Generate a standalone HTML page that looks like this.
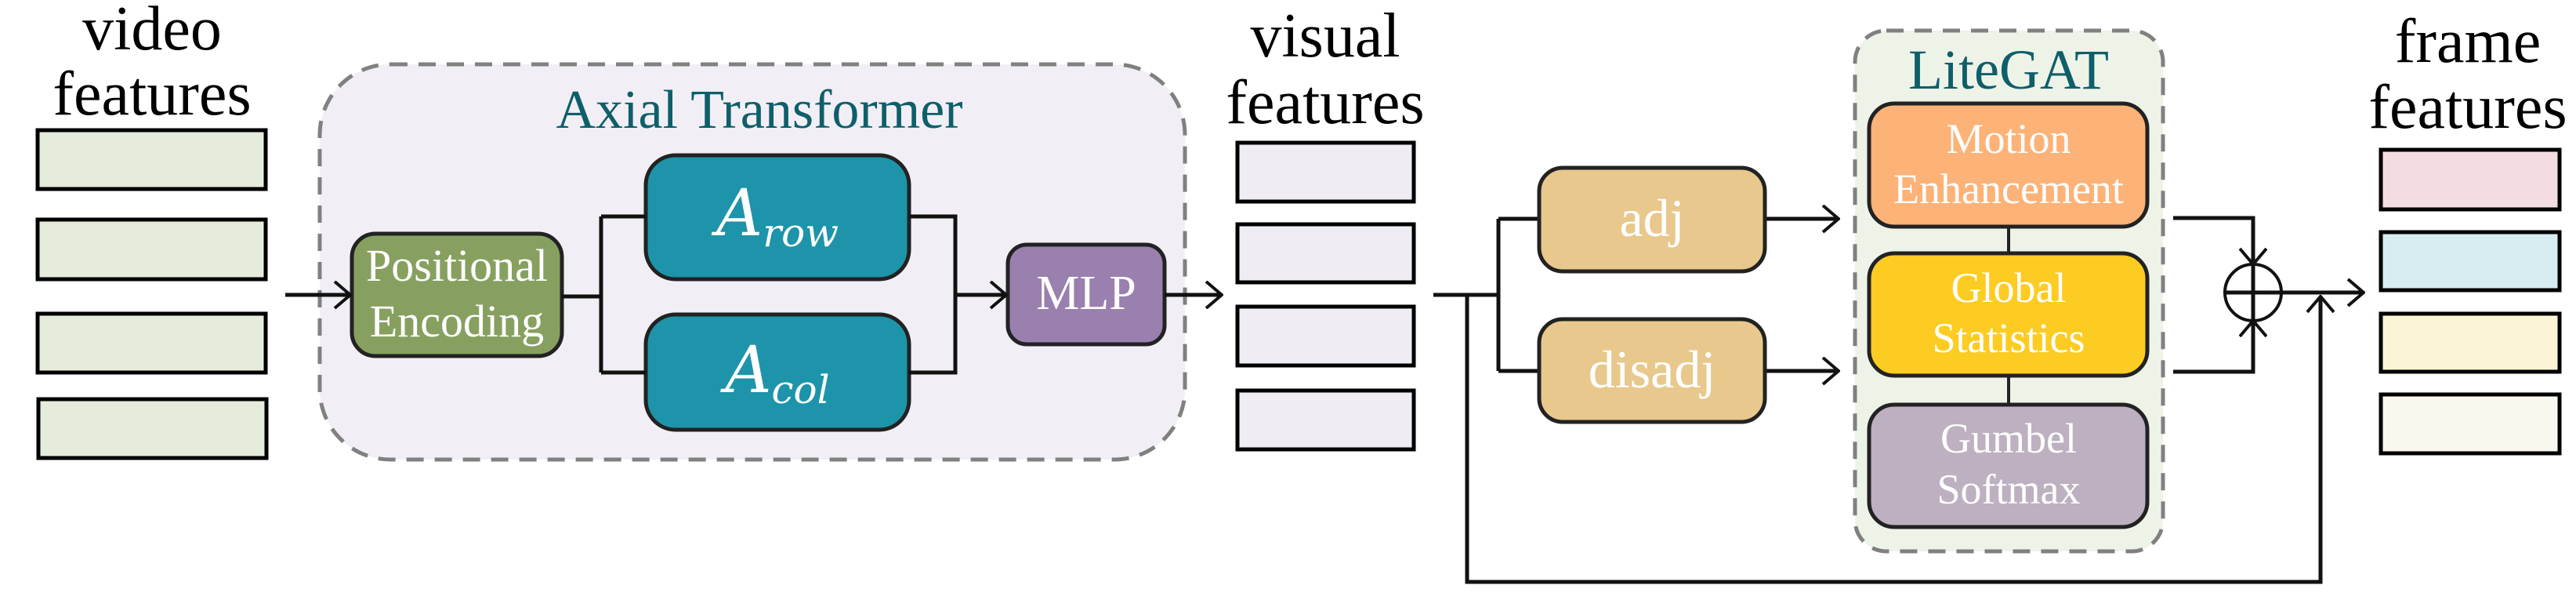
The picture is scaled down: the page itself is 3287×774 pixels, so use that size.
<!DOCTYPE html>
<html><head><meta charset="utf-8"><style>html,body{margin:0;padding:0;background:#fff}svg{display:block}</style></head>
<body>
<svg width="3287" height="774" viewBox="0 0 3287 774" xmlns="http://www.w3.org/2000/svg" font-family="'Liberation Serif', serif">
<defs>
<marker id="ah" viewBox="0 0 24 36" refX="22" refY="18" markerWidth="24" markerHeight="36" markerUnits="userSpaceOnUse" orient="auto">
<path d="M2,1 L22,18 L2,35" fill="none" stroke="#111" stroke-width="4"/>
</marker>
</defs>
<!-- video features -->
<text x="194" y="63" font-size="80" text-anchor="middle" fill="#000">video</text>
<text x="194" y="146" font-size="80" text-anchor="middle" fill="#000">features</text>
<g fill="#e6ecdc" stroke="#000" stroke-width="5">
<rect x="48" y="166" width="291" height="75"/>
<rect x="48" y="280" width="291" height="76"/>
<rect x="48" y="400" width="291" height="75"/>
<rect x="49" y="509" width="291" height="75"/>
</g>
<!-- Axial container -->
<rect x="408" y="82" width="1104" height="504" rx="90" fill="#f1eff5" stroke="#808080" stroke-width="5" stroke-dasharray="22,14"/>
<text x="969" y="163" font-size="70" text-anchor="middle" fill="#0e5f6a">Axial Transformer</text>
<g stroke="#222" stroke-width="5">
<rect x="449" y="298" width="268" height="156" rx="30" fill="#87a060"/>
<rect x="824" y="198" width="336" height="158" rx="38" fill="#1d94a9"/>
<rect x="824" y="401" width="336" height="147" rx="38" fill="#1d94a9"/>
<rect x="1286" y="312" width="200" height="127" rx="24" fill="#9a80ae"/>
</g>
<g fill="#fff" text-anchor="middle">
<text x="583" y="358" font-size="58">Positional</text>
<text x="583" y="429" font-size="58">Encoding</text>
<text x="992" y="300" font-size="82" font-family="'DejaVu Serif', serif" font-style="italic">A<tspan font-size="50" dy="14">row</tspan></text>
<text x="992" y="500" font-size="82" font-family="'DejaVu Serif', serif" font-style="italic">A<tspan font-size="50" dy="14">col</tspan></text>
<text x="1386" y="394" font-size="62">MLP</text>
</g>
<g fill="none" stroke="#111" stroke-width="5">
<path d="M364,376 L447,376" marker-end="url(#ah)"/>
<path d="M717,378 L767,378 M767,276 L767,475 M767,276 L824,276 M767,475 L824,475"/>
<path d="M1160,276 L1219,276 L1219,475 L1160,475 M1219,376 L1284,376" marker-end="url(#ah)"/>
<path d="M1486,376 L1559,376" marker-end="url(#ah)"/>
</g>
<!-- visual features -->
<text x="1691" y="72" font-size="80" text-anchor="middle" fill="#000">visual</text>
<text x="1691" y="157" font-size="80" text-anchor="middle" fill="#000">features</text>
<g fill="#efedf3" stroke="#000" stroke-width="5">
<rect x="1579" y="182" width="225" height="75"/>
<rect x="1579" y="286" width="225" height="74"/>
<rect x="1579" y="391" width="225" height="75"/>
<rect x="1579" y="498" width="225" height="75"/>
</g>
<g fill="none" stroke="#111" stroke-width="5">
<path d="M1829,376 L1912,376 M1912,279 L1912,473 M1912,279 L1964,279 M1912,473 L1964,473"/>
<path d="M2252,279 L2346,279" marker-end="url(#ah)"/>
<path d="M2252,473 L2346,473" marker-end="url(#ah)"/>
<path d="M1872,376 L1872,742 L2961,742 L2961,378" marker-end="url(#ah)"/>
</g>
<g stroke="#222" stroke-width="5">
<rect x="1964" y="214" width="288" height="132" rx="30" fill="#e8c88c"/>
<rect x="1964" y="407" width="288" height="131" rx="30" fill="#e8c88c"/>
</g>
<text x="2108" y="301" font-size="68" text-anchor="middle" fill="#fff">adj</text>
<text x="2108" y="494" font-size="68" text-anchor="middle" fill="#fff">disadj</text>
<!-- LiteGAT -->
<rect x="2367" y="39" width="393" height="664" rx="40" fill="#eef3e8" stroke="#808080" stroke-width="5" stroke-dasharray="22,14"/>
<text x="2563" y="113" font-size="72" text-anchor="middle" fill="#0e5f6a">LiteGAT</text>
<path d="M2563,289 L2563,323 M2563,479 L2563,516" stroke="#222" stroke-width="4"/>
<g stroke="#222" stroke-width="5">
<rect x="2385" y="132" width="355" height="157" rx="32" fill="#fdb277"/>
<rect x="2385" y="323" width="355" height="156" rx="32" fill="#fdcc22"/>
<rect x="2385" y="516" width="355" height="156" rx="32" fill="#bdb0c0"/>
</g>
<g fill="#fff" text-anchor="middle" font-size="54">
<text x="2563" y="195">Motion</text>
<text x="2563" y="259">Enhancement</text>
<text x="2563" y="385">Global</text>
<text x="2563" y="449">Statistics</text>
<text x="2563" y="577">Gumbel</text>
<text x="2563" y="642">Softmax</text>
</g>
<!-- combine -->
<g fill="none" stroke="#111" stroke-width="5">
<path d="M2773,278 L2875,278 L2875,337" marker-end="url(#ah)"/>
<path d="M2773,474 L2875,474 L2875,409" marker-end="url(#ah)"/>
<circle cx="2875" cy="373" r="36" stroke-width="4"/>
<path d="M2875,337 L2875,409 M2837,373 L3016,373" marker-end="url(#ah)"/>
</g>
<!-- frame features -->
<text x="3149" y="79" font-size="80" text-anchor="middle" fill="#000">frame</text>
<text x="3149" y="163" font-size="80" text-anchor="middle" fill="#000">features</text>
<g stroke="#000" stroke-width="5">
<rect x="3038" y="191" width="228" height="76" fill="#f3dde0"/>
<rect x="3038" y="296" width="228" height="74" fill="#d6ecf1"/>
<rect x="3038" y="400" width="228" height="74" fill="#fbf5d6"/>
<rect x="3038" y="503" width="228" height="75" fill="#f9f7ee"/>
</g>
</svg>
</body></html>
